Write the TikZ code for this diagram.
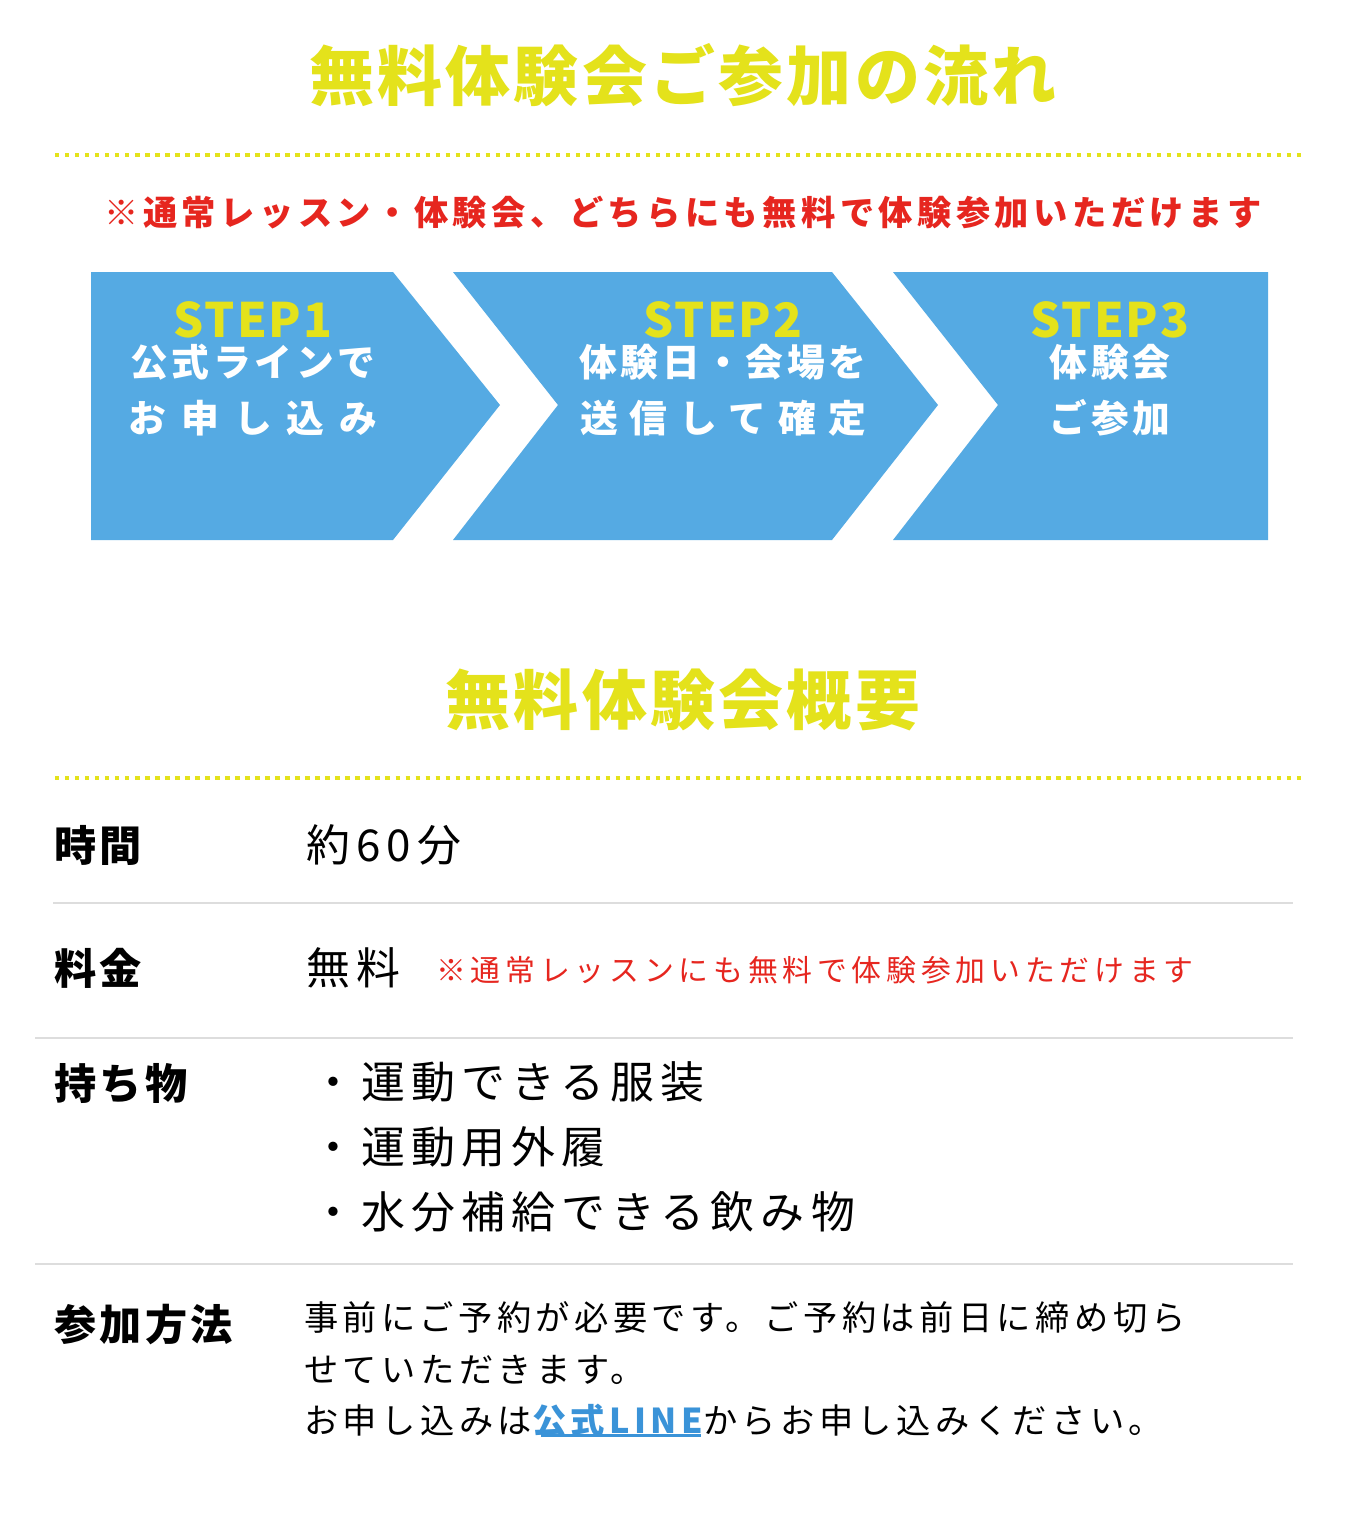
\documentclass[tikz,border=0pt]{standalone}
\usepackage{fontspec}
\usetikzlibrary{positioning}
\setmainfont{Noto Sans CJK JP}
\newcommand\wide[1]{\addfontfeature{LetterSpace=#1}}
\definecolor{ttlyellow}{HTML}{E4E21B}
\definecolor{stepblue}{HTML}{55AAE3}
\definecolor{noteRed}{HTML}{E6261F}
\definecolor{lineGray}{HTML}{DDDDDD}
\definecolor{linkBlue}{HTML}{3A93D8}
\tikzset{
  ttl/.style={text=ttlyellow, font=\bfseries\fontsize{37}{40}\selectfont\wide{5}},
  steplbl/.style={text=ttlyellow, font=\bfseries\fontsize{27}{30}\selectfont\wide{4}},
  steptxt/.style={text=white, font=\bfseries\fontsize{21.5}{32}\selectfont\wide{10}, align=center},
  rowhead/.style={anchor=west, font=\bfseries\fontsize{24}{28}\selectfont\wide{8}},
  rowtxt/.style={anchor=west, font=\fontsize{25}{37}\selectfont\wide{14}, align=left},
  chevron/.style={fill=stepblue, draw=none},
  dotline/.style={ttlyellow, line width=2.5pt, dash pattern=on 2.5pt off 3.2pt},
  sepline/.style={lineGray, line width=0.8pt}
}
\begin{document}
\begin{tikzpicture}[x=0.02cm, y=-0.02cm]
    \useasboundingbox[fill=white] (0,0) rectangle (1366,1515);

    % Heading 1
    \node[ttl] (title1) at (683,75) {無料体験会ご参加の流れ};
    \draw[dotline] (55,155) -- (1305,155);
    \node[text=noteRed, font=\bfseries\fontsize{19.5}{22}\selectfont\wide{13}] (note1) at (683,213)
        {※通常レッスン・体験会、どちらにも無料で体験参加いただけます};

    % Chevrons
    \fill[chevron] (91,272) -- (393,272) -- (500,405) -- (393,540) -- (91,540) -- cycle;
    \fill[chevron] (453,272) -- (832,272) -- (938,405) -- (832,540) -- (453,540) -- (558,405) -- cycle;
    \fill[chevron] (893,272) -- (1268,272) -- (1268,540) -- (893,540) -- (998,405) -- cycle;

    \node[steplbl] (s1) at (253,320) {STEP1};
    \node[steptxt, below=-4pt of s1] (t1) {公式ラインで\\{\wide{40}お申し込み}};
    \node[steplbl] (s2) at (723,320) {STEP2};
    \node[steptxt, below=-4pt of s2] (t2) {体験日・会場を\\{\wide{32}送信して確定}};
    \node[steplbl] (s3) at (1110,320) {STEP3};
    \node[steptxt, below=-4pt of s3] (t3) {体験会\\ご参加};

    % Heading 2
    \node[ttl] (title2) at (683,700) {無料体験会概要};
    \draw[dotline] (55,778) -- (1305,778);

    % Table rows
    \node[rowhead] (h1) at (48,845) {時間};
    \node[rowtxt] (v1) at (300,845) {約60分};
    \draw[sepline] (53,903) -- (1293,903);

    \node[rowhead] (h2) at (48,968) {料金};
    \node[rowtxt] (v2) at (300,968) {無料};
    \node[anchor=west, text=noteRed, font=\fontsize{17}{20}\selectfont\wide{16}] (n2) at (430,970)
        {※通常レッスンにも無料で体験参加いただけます};
    \draw[sepline] (35,1038) -- (1293,1038);

    \node[rowhead] (h3) at (48,1083) {持ち物};
    \node[rowtxt, anchor=north west] (v3) at (305,1055)
        {・運動できる服装\\・運動用外履\\・水分補給できる飲み物};
    \draw[sepline] (35,1264) -- (1293,1264);

    \node[rowhead] (h4) at (48,1325) {参加方法};
    \node[anchor=north west, font=\fontsize{19.5}{29.5}\selectfont\wide{13}, align=left] (v4) at (298,1295)
        {事前にご予約が必要です。ご予約は前日に締め切ら\\せていただきます。\\
         お申し込みは{\bfseries\color{linkBlue}公式LINE}からお申し込みください。};
    \draw[linkBlue, line width=1.5pt] (v4.south west) ++(243,-8) coordinate (ul) -- ++(160,0);
\end{tikzpicture}
\end{document}
